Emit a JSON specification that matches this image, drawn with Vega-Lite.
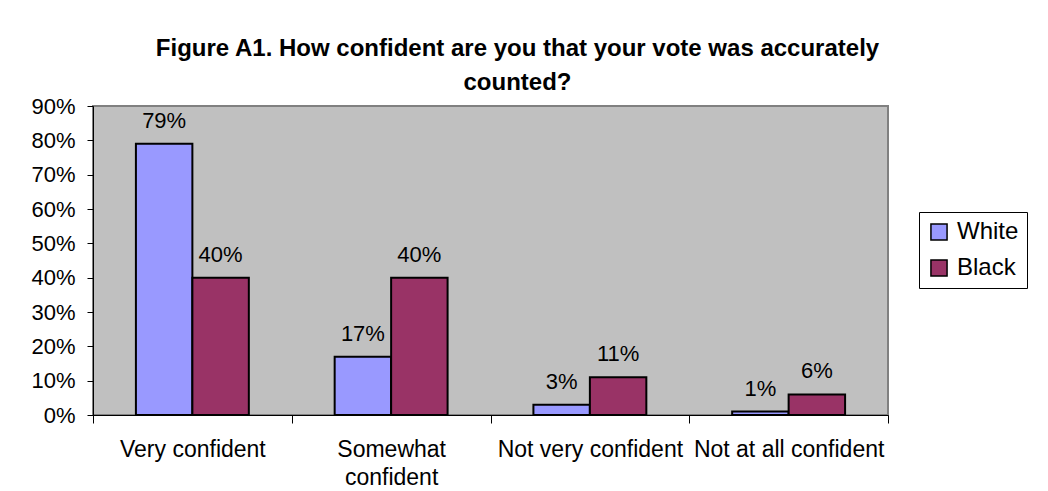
{
  "$schema": "https://vega.github.io/schema/vega-lite/v6.json",
  "width": 795,
  "height": 309,
  "autosize": {"type": "none"},
  "padding": {"left": 93, "top": 106, "right": 160, "bottom": 76},
  "background": "white",
  "config": {
    "font": "Liberation Sans",
    "view": {"fill": "#C0C0C0", "stroke": "#808080", "strokeWidth": 2}
  },
  "title": {
    "text": ["Figure A1. How confident are you that your vote was accurately", "counted?"],
    "font": "Liberation Sans",
    "fontSize": 24,
    "fontWeight": "bold",
    "color": "black",
    "lineHeight": 34,
    "anchor": "middle",
    "baseline": "alphabetic",
    "dx": 27,
    "dy": 29,
    "offset": 10
  },
  "data": {
    "values": [
      {"category": "Very confident", "group": "White", "value": 0.79},
      {"category": "Very confident", "group": "Black", "value": 0.40},
      {"category": "Somewhat confident", "group": "White", "value": 0.17},
      {"category": "Somewhat confident", "group": "Black", "value": 0.40},
      {"category": "Not very confident", "group": "White", "value": 0.03},
      {"category": "Not very confident", "group": "Black", "value": 0.11},
      {"category": "Not at all confident", "group": "White", "value": 0.01},
      {"category": "Not at all confident", "group": "Black", "value": 0.06}
    ]
  },
  "encoding": {
    "x": {
      "field": "category",
      "type": "nominal",
      "sort": ["Very confident", "Somewhat confident", "Not very confident", "Not at all confident"],
      "scale": {"paddingInner": 0, "paddingOuter": 0},
      "axis": {
        "title": null,
        "labelAngle": 0,
        "tickBand": "extent",
        "tickSize": 8,
        "tickColor": "black",
        "domainColor": "black",
        "labelFontSize": 23,
        "labelColor": "black",
        "labelPadding": 15,
        "labelLineHeight": 28,
        "labelLimit": 400,
        "labelOverlap": false,
        "labelBound": false,
        "labelExpr": "datum.label == 'Somewhat confident' ? ['Somewhat', 'confident'] : datum.label"
      }
    },
    "xOffset": {
      "field": "group",
      "sort": ["White", "Black"],
      "scale": {"paddingInner": 0, "paddingOuter": 0.76}
    },
    "y": {
      "field": "value",
      "type": "quantitative",
      "scale": {"domain": [0, 0.9]},
      "axis": {
        "title": null,
        "values": [0, 0.1, 0.2, 0.3, 0.4, 0.5, 0.6, 0.7, 0.8, 0.9],
        "format": ".0%",
        "grid": false,
        "tickSize": 6,
        "tickColor": "black",
        "domainColor": "black",
        "labelPadding": 12,
        "labelFontSize": 22,
        "labelColor": "black"
      }
    }
  },
  "layer": [
    {
      "mark": {"type": "bar", "stroke": "black", "strokeWidth": 2},
      "encoding": {
        "color": {
          "field": "group",
          "type": "nominal",
          "scale": {"domain": ["White", "Black"], "range": ["#9999FF", "#993366"]},
          "legend": {
            "title": null,
            "orient": "none",
            "legendX": 826,
            "legendY": 106,
            "strokeColor": "black",
            "fillColor": "white",
            "padding": 8,
            "symbolType": "square",
            "symbolSize": 260,
            "symbolStrokeColor": "black",
            "symbolStrokeWidth": 1.5,
            "symbolOpacity": 1,
            "labelFontSize": 24,
            "labelOffset": 6,
            "rowPadding": 12,
            "labelColor": "black"
          }
        }
      }
    },
    {
      "mark": {"type": "text", "dy": -16, "baseline": "alphabetic", "fontSize": 22, "color": "black"},
      "encoding": {
        "text": {"field": "value", "type": "quantitative", "format": ".0%"}
      }
    }
  ]
}
